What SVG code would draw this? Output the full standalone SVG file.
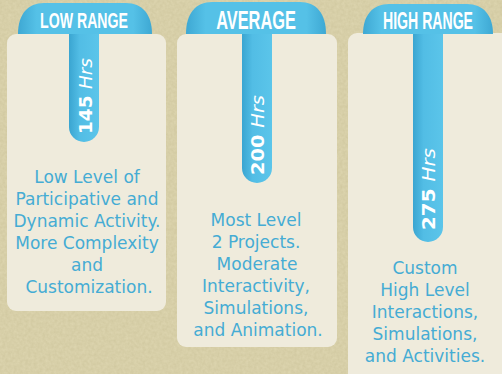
<svg xmlns="http://www.w3.org/2000/svg" width="502" height="374" viewBox="0 0 502 374">
<defs>
<filter id="tex" x="0" y="0" width="100%" height="100%">
<feTurbulence type="fractalNoise" baseFrequency="0.35" numOctaves="2" seed="3" result="n"/>
<feColorMatrix in="n" type="matrix" values="0 0 0 0 0.45  0 0 0 0 0.4  0 0 0 0 0.2  0 0 0 0.35 -0.05"/>
</filter>
<linearGradient id="hdr" x1="0" y1="0" x2="1" y2="0">
<stop offset="0" stop-color="#3ea8d3"/>
<stop offset="0.14" stop-color="#55c1e7"/>
<stop offset="0.86" stop-color="#55c1e7"/>
<stop offset="1" stop-color="#3ea8d3"/>
</linearGradient>
<linearGradient id="bar" x1="0" y1="0" x2="1" y2="0">
<stop offset="0" stop-color="#3aa5d1"/>
<stop offset="0.35" stop-color="#52bde5"/>
<stop offset="1" stop-color="#5bc5ea"/>
</linearGradient>
<style>
.card{fill:#efebdc}
.hdr{fill:url(#hdr)}
.bar{fill:url(#bar)}
.ht{font-family:"Liberation Sans",Arial,sans-serif;font-weight:bold;fill:#ffffff;text-anchor:middle}
.hrs{font-family:"DejaVu Sans","Liberation Sans",sans-serif;font-size:18px;fill:#ffffff;text-anchor:middle}
.it{font-style:italic;font-weight:normal}
.body{font-family:"DejaVu Sans","Liberation Sans",sans-serif;font-size:17px;fill:#45acd4;text-anchor:middle}
</style>
</defs>
<rect width="502" height="374" fill="#dcd4ae"/>
<rect width="502" height="374" filter="url(#tex)"/>

<g id="low">
<rect class="card" x="7" y="34" width="159" height="277" rx="9"/>
<path class="hdr" d="M18,34 C18,14 28,3 44,3 H126 C142,3 152,14 152,34 Z"/>
<path class="bar" d="M69,34 H99 V127 A15,15 0 0 1 69,127 Z"/>
<text class="ht" transform="translate(84,28) scale(0.643,1)" font-size="22">LOW RANGE</text>
<text class="hrs" transform="translate(85,96) rotate(-90)" y="6.5" textLength="76" lengthAdjust="spacingAndGlyphs"><tspan font-weight="bold">145 </tspan><tspan class="it">Hrs</tspan></text>
<text class="body" x="87" y="183">Low Level of</text>
<text class="body" x="87" y="205">Participative and</text>
<text class="body" x="87" y="227">Dynamic Activity.</text>
<text class="body" x="87" y="249">More Complexity</text>
<text class="body" x="87" y="271">and</text>
<text class="body" x="89" y="293">Customization.</text>
</g>

<g id="average">
<rect class="card" x="177" y="34" width="160" height="313" rx="9"/>
<path class="hdr" d="M186,34 C186,13 196,2 212,2 H300 C316,2 326,13 326,34 Z"/>
<path class="bar" d="M242,34 H272 V168 A15,15 0 0 1 242,168 Z"/>
<text class="ht" transform="translate(256,29) scale(0.63,1)" font-size="26">AVERAGE</text>
<text class="hrs" transform="translate(257,135) rotate(-90)" y="6.5" textLength="80" lengthAdjust="spacingAndGlyphs"><tspan font-weight="bold">200 </tspan><tspan class="it">Hrs</tspan></text>
<text class="body" x="256" y="226">Most Level</text>
<text class="body" x="256" y="248">2 Projects.</text>
<text class="body" x="257" y="270">Moderate</text>
<text class="body" x="256" y="292">Interactivity,</text>
<text class="body" x="256" y="314">Simulations,</text>
<text class="body" x="258" y="336">and Animation.</text>
</g>

<g id="high">
<rect class="card" x="348" y="33" width="170" height="350" rx="9"/>
<path class="hdr" d="M363,34 C363,15 373,4 389,4 H467 C483,4 493,15 493,34 Z"/>
<path class="bar" d="M413,34 H443 V227 A15,15 0 0 1 413,227 Z"/>
<text class="ht" transform="translate(428,29) scale(0.613,1)" font-size="23">HIGH RANGE</text>
<text class="hrs" transform="translate(428,189) rotate(-90)" y="6.5" textLength="82" lengthAdjust="spacingAndGlyphs"><tspan font-weight="bold">275 </tspan><tspan class="it">Hrs</tspan></text>
<text class="body" x="425" y="274">Custom</text>
<text class="body" x="425" y="296">High Level</text>
<text class="body" x="425" y="318">Interactions,</text>
<text class="body" x="425" y="340">Simulations,</text>
<text class="body" x="425" y="362">and Activities.</text>
</g>
</svg>
